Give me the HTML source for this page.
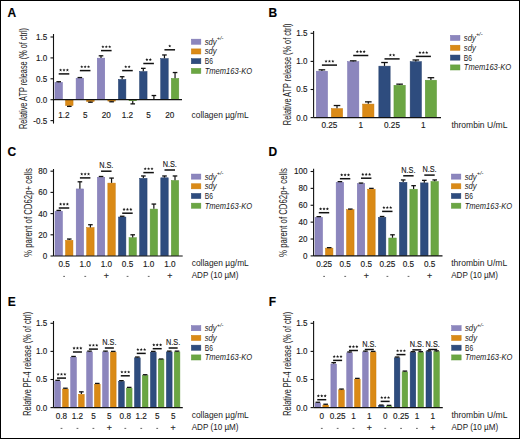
<!DOCTYPE html>
<html><head><meta charset="utf-8"><style>
html,body{margin:0;padding:0;background:#fff;}
svg{display:block;font-family:"Liberation Sans", sans-serif;}
text{stroke:#1a1a1a;stroke-width:0.15px;}
</style></head><body>
<svg width="520" height="439" viewBox="0 0 520 439">
<rect x="0" y="0" width="520" height="439" fill="#fff"/>
<text x="7.40" y="17.40" font-size="12" text-anchor="start" fill="#000" font-weight="bold" >A</text>
<text x="0.00" y="0.00" font-size="10.0" text-anchor="middle" fill="#1a1a1a" textLength="101" lengthAdjust="spacingAndGlyphs" style="stroke:none" transform="translate(27.20,78.50) rotate(-90)">Relative ATP release (% of ctrl)</text>
<line x1="53.50" y1="34.00" x2="53.50" y2="123.60" stroke="#111" stroke-width="1.1"/>
<line x1="50.50" y1="37.00" x2="53.50" y2="37.00" stroke="#111" stroke-width="1.1"/>
<text x="47.30" y="39.90" font-size="9.4" text-anchor="end" fill="#1a1a1a" textLength="11.24" lengthAdjust="spacingAndGlyphs" >1.5</text>
<line x1="50.50" y1="57.90" x2="53.50" y2="57.90" stroke="#111" stroke-width="1.1"/>
<text x="47.30" y="60.80" font-size="9.4" text-anchor="end" fill="#1a1a1a" textLength="11.24" lengthAdjust="spacingAndGlyphs" >1.0</text>
<line x1="50.50" y1="78.80" x2="53.50" y2="78.80" stroke="#111" stroke-width="1.1"/>
<text x="47.30" y="81.70" font-size="9.4" text-anchor="end" fill="#1a1a1a" textLength="11.24" lengthAdjust="spacingAndGlyphs" >0.5</text>
<line x1="50.50" y1="99.70" x2="53.50" y2="99.70" stroke="#111" stroke-width="1.1"/>
<text x="47.30" y="102.60" font-size="9.4" text-anchor="end" fill="#1a1a1a" textLength="11.24" lengthAdjust="spacingAndGlyphs" >0.0</text>
<line x1="50.50" y1="120.60" x2="53.50" y2="120.60" stroke="#111" stroke-width="1.1"/>
<text x="47.30" y="123.50" font-size="9.4" text-anchor="end" fill="#1a1a1a" textLength="13.93" lengthAdjust="spacingAndGlyphs" >-0.5</text>
<rect x="54.95" y="82.39" width="7.50" height="17.06" fill="#8C86BD" stroke="#7B73B2" stroke-width="0.5"/>
<line x1="58.70" y1="82.14" x2="58.70" y2="81.73" stroke="#111" stroke-width="1.2"/>
<line x1="56.40" y1="81.73" x2="61.00" y2="81.73" stroke="#111" stroke-width="1.3"/>
<rect x="65.55" y="99.95" width="7.50" height="5.56" fill="#DA8A16" stroke="#C97A0A" stroke-width="0.5"/>
<line x1="69.30" y1="105.76" x2="69.30" y2="106.39" stroke="#111" stroke-width="1.2"/>
<line x1="67.00" y1="106.39" x2="71.60" y2="106.39" stroke="#111" stroke-width="1.3"/>
<rect x="76.10" y="78.21" width="7.50" height="21.24" fill="#8C86BD" stroke="#7B73B2" stroke-width="0.5"/>
<line x1="79.85" y1="77.96" x2="79.85" y2="77.55" stroke="#111" stroke-width="1.2"/>
<line x1="77.55" y1="77.55" x2="82.15" y2="77.55" stroke="#111" stroke-width="1.3"/>
<rect x="86.70" y="99.95" width="7.50" height="1.59" fill="#DA8A16" stroke="#C97A0A" stroke-width="0.5"/>
<line x1="90.45" y1="101.79" x2="90.45" y2="102.21" stroke="#111" stroke-width="1.2"/>
<line x1="88.15" y1="102.21" x2="92.75" y2="102.21" stroke="#111" stroke-width="1.3"/>
<rect x="97.25" y="58.15" width="7.50" height="41.30" fill="#8C86BD" stroke="#7B73B2" stroke-width="0.5"/>
<line x1="101.00" y1="57.90" x2="101.00" y2="55.81" stroke="#111" stroke-width="1.2"/>
<line x1="98.70" y1="55.81" x2="103.30" y2="55.81" stroke="#111" stroke-width="1.3"/>
<rect x="107.85" y="99.95" width="7.50" height="1.17" fill="#DA8A16" stroke="#C97A0A" stroke-width="0.5"/>
<line x1="111.60" y1="101.37" x2="111.60" y2="101.79" stroke="#111" stroke-width="1.2"/>
<line x1="109.30" y1="101.79" x2="113.90" y2="101.79" stroke="#111" stroke-width="1.3"/>
<rect x="118.40" y="79.47" width="7.50" height="19.98" fill="#2E4C7E" stroke="#233E6C" stroke-width="0.5"/>
<line x1="122.15" y1="79.22" x2="122.15" y2="76.71" stroke="#111" stroke-width="1.2"/>
<line x1="119.85" y1="76.71" x2="124.45" y2="76.71" stroke="#111" stroke-width="1.3"/>
<rect x="128.75" y="99.70" width="8.00" height="1.25" fill="#6BA643"/>
<line x1="132.75" y1="100.95" x2="132.75" y2="103.88" stroke="#111" stroke-width="1.2"/>
<line x1="130.45" y1="103.88" x2="135.05" y2="103.88" stroke="#111" stroke-width="1.3"/>
<rect x="139.55" y="71.53" width="7.50" height="27.92" fill="#2E4C7E" stroke="#233E6C" stroke-width="0.5"/>
<line x1="143.30" y1="71.28" x2="143.30" y2="68.35" stroke="#111" stroke-width="1.2"/>
<line x1="141.00" y1="68.35" x2="145.60" y2="68.35" stroke="#111" stroke-width="1.3"/>
<rect x="149.90" y="99.70" width="8.00" height="0.00" fill="#6BA643"/>
<line x1="153.90" y1="99.70" x2="153.90" y2="95.52" stroke="#111" stroke-width="1.2"/>
<line x1="151.60" y1="95.52" x2="156.20" y2="95.52" stroke="#111" stroke-width="1.3"/>
<rect x="160.70" y="58.57" width="7.50" height="40.88" fill="#2E4C7E" stroke="#233E6C" stroke-width="0.5"/>
<line x1="164.45" y1="58.32" x2="164.45" y2="54.97" stroke="#111" stroke-width="1.2"/>
<line x1="162.15" y1="54.97" x2="166.75" y2="54.97" stroke="#111" stroke-width="1.3"/>
<rect x="171.30" y="78.42" width="7.50" height="21.03" fill="#6BA643" stroke="#5E9838" stroke-width="0.5"/>
<line x1="175.05" y1="78.17" x2="175.05" y2="72.53" stroke="#111" stroke-width="1.2"/>
<line x1="172.75" y1="72.53" x2="177.35" y2="72.53" stroke="#111" stroke-width="1.3"/>
<line x1="53.50" y1="99.70" x2="182.00" y2="99.70" stroke="#111" stroke-width="1.2"/>
<line x1="58.70" y1="73.90" x2="69.30" y2="73.90" stroke="#111" stroke-width="1.5"/>
<polygon points="60.60,68.50 61.04,69.49 62.12,69.61 61.31,70.33 61.54,71.39 60.60,70.85 59.66,71.39 59.89,70.33 59.08,69.61 60.16,69.49" fill="#1a1a1a"/>
<polygon points="64.00,68.50 64.44,69.49 65.52,69.61 64.71,70.33 64.94,71.39 64.00,70.85 63.06,71.39 63.29,70.33 62.48,69.61 63.56,69.49" fill="#1a1a1a"/>
<polygon points="67.40,68.50 67.84,69.49 68.92,69.61 68.11,70.33 68.34,71.39 67.40,70.85 66.46,71.39 66.69,70.33 65.88,69.61 66.96,69.49" fill="#1a1a1a"/>
<line x1="79.85" y1="70.60" x2="90.45" y2="70.60" stroke="#111" stroke-width="1.5"/>
<polygon points="81.75,65.20 82.19,66.19 83.27,66.31 82.46,67.03 82.69,68.09 81.75,67.55 80.81,68.09 81.04,67.03 80.23,66.31 81.31,66.19" fill="#1a1a1a"/>
<polygon points="85.15,65.20 85.59,66.19 86.67,66.31 85.86,67.03 86.09,68.09 85.15,67.55 84.21,68.09 84.44,67.03 83.63,66.31 84.71,66.19" fill="#1a1a1a"/>
<polygon points="88.55,65.20 88.99,66.19 90.07,66.31 89.26,67.03 89.49,68.09 88.55,67.55 87.61,68.09 87.84,67.03 87.03,66.31 88.11,66.19" fill="#1a1a1a"/>
<line x1="101.00" y1="50.60" x2="111.60" y2="50.60" stroke="#111" stroke-width="1.5"/>
<polygon points="102.90,45.20 103.34,46.19 104.42,46.31 103.61,47.03 103.84,48.09 102.90,47.55 101.96,48.09 102.19,47.03 101.38,46.31 102.46,46.19" fill="#1a1a1a"/>
<polygon points="106.30,45.20 106.74,46.19 107.82,46.31 107.01,47.03 107.24,48.09 106.30,47.55 105.36,48.09 105.59,47.03 104.78,46.31 105.86,46.19" fill="#1a1a1a"/>
<polygon points="109.70,45.20 110.14,46.19 111.22,46.31 110.41,47.03 110.64,48.09 109.70,47.55 108.76,48.09 108.99,47.03 108.18,46.31 109.26,46.19" fill="#1a1a1a"/>
<line x1="122.15" y1="70.60" x2="132.75" y2="70.60" stroke="#111" stroke-width="1.5"/>
<polygon points="125.75,65.20 126.19,66.19 127.27,66.31 126.46,67.03 126.69,68.09 125.75,67.55 124.81,68.09 125.04,67.03 124.23,66.31 125.31,66.19" fill="#1a1a1a"/>
<polygon points="129.15,65.20 129.59,66.19 130.67,66.31 129.86,67.03 130.09,68.09 129.15,67.55 128.21,68.09 128.44,67.03 127.63,66.31 128.71,66.19" fill="#1a1a1a"/>
<line x1="143.30" y1="63.50" x2="153.90" y2="63.50" stroke="#111" stroke-width="1.5"/>
<polygon points="146.90,58.10 147.34,59.09 148.42,59.21 147.61,59.93 147.84,60.99 146.90,60.45 145.96,60.99 146.19,59.93 145.38,59.21 146.46,59.09" fill="#1a1a1a"/>
<polygon points="150.30,58.10 150.74,59.09 151.82,59.21 151.01,59.93 151.24,60.99 150.30,60.45 149.36,60.99 149.59,59.93 148.78,59.21 149.86,59.09" fill="#1a1a1a"/>
<line x1="164.45" y1="49.80" x2="175.05" y2="49.80" stroke="#111" stroke-width="1.5"/>
<polygon points="169.75,44.40 170.19,45.39 171.27,45.51 170.46,46.23 170.69,47.29 169.75,46.75 168.81,47.29 169.04,46.23 168.23,45.51 169.31,45.39" fill="#1a1a1a"/>
<text x="64.00" y="118.00" font-size="8.8" text-anchor="middle" fill="#1a1a1a" textLength="11.38" lengthAdjust="spacingAndGlyphs" >1.2</text>
<text x="85.15" y="118.00" font-size="8.8" text-anchor="middle" fill="#1a1a1a" textLength="4.55" lengthAdjust="spacingAndGlyphs" >5</text>
<text x="106.30" y="118.00" font-size="8.8" text-anchor="middle" fill="#1a1a1a" textLength="9.1" lengthAdjust="spacingAndGlyphs" >20</text>
<text x="127.45" y="118.00" font-size="8.8" text-anchor="middle" fill="#1a1a1a" textLength="11.38" lengthAdjust="spacingAndGlyphs" >1.2</text>
<text x="148.60" y="118.00" font-size="8.8" text-anchor="middle" fill="#1a1a1a" textLength="4.55" lengthAdjust="spacingAndGlyphs" >5</text>
<text x="169.75" y="118.00" font-size="8.8" text-anchor="middle" fill="#1a1a1a" textLength="9.1" lengthAdjust="spacingAndGlyphs" >20</text>
<text x="191.60" y="118.00" font-size="9.1" text-anchor="start" fill="#1a1a1a" textLength="57" lengthAdjust="spacingAndGlyphs" style="stroke:none">collagen µg/mL</text>
<rect x="191.35" y="39.15" width="9.50" height="5.10" fill="#8C86BD" stroke="#7B73B2" stroke-width="0.5"/>
<text x="204.70" y="44.60" font-size="8.9" text-anchor="start" fill="#1a1a1a" font-style="italic" textLength="12" lengthAdjust="spacingAndGlyphs" style="stroke:none">sdy</text>
<text x="216.80" y="40.20" font-size="5.8" text-anchor="start" fill="#1a1a1a" font-style="italic" textLength="6.6" lengthAdjust="spacingAndGlyphs" style="stroke:none">+/-</text>
<rect x="191.35" y="48.90" width="9.50" height="5.10" fill="#DA8A16" stroke="#C97A0A" stroke-width="0.5"/>
<text x="204.70" y="54.35" font-size="8.9" text-anchor="start" fill="#1a1a1a" font-style="italic" textLength="12" lengthAdjust="spacingAndGlyphs" style="stroke:none">sdy</text>
<rect x="191.35" y="58.65" width="9.50" height="5.10" fill="#2E4C7E" stroke="#233E6C" stroke-width="0.5"/>
<text x="204.70" y="64.10" font-size="8.9" text-anchor="start" fill="#1a1a1a" textLength="8.2" lengthAdjust="spacingAndGlyphs" style="stroke:none">B6</text>
<rect x="191.35" y="68.40" width="9.50" height="5.10" fill="#6BA643" stroke="#5E9838" stroke-width="0.5"/>
<text x="204.70" y="73.85" font-size="8.9" text-anchor="start" fill="#1a1a1a" font-style="italic" textLength="47.4" lengthAdjust="spacingAndGlyphs" style="stroke:none">Tmem163-KO</text>
<text x="268.60" y="17.40" font-size="12" text-anchor="start" fill="#000" font-weight="bold" >B</text>
<text x="0.00" y="0.00" font-size="10.0" text-anchor="middle" fill="#1a1a1a" textLength="101.7" lengthAdjust="spacingAndGlyphs" style="stroke:none" transform="translate(290.50,74.30) rotate(-90)">Relative ATP release (% of ctrl)</text>
<line x1="313.60" y1="31.00" x2="313.60" y2="117.60" stroke="#111" stroke-width="1.1"/>
<line x1="310.60" y1="33.30" x2="313.60" y2="33.30" stroke="#111" stroke-width="1.1"/>
<text x="307.40" y="36.20" font-size="9.4" text-anchor="end" fill="#1a1a1a" textLength="11.24" lengthAdjust="spacingAndGlyphs" >1.5</text>
<line x1="310.60" y1="61.40" x2="313.60" y2="61.40" stroke="#111" stroke-width="1.1"/>
<text x="307.40" y="64.30" font-size="9.4" text-anchor="end" fill="#1a1a1a" textLength="11.24" lengthAdjust="spacingAndGlyphs" >1.0</text>
<line x1="310.60" y1="89.50" x2="313.60" y2="89.50" stroke="#111" stroke-width="1.1"/>
<text x="307.40" y="92.40" font-size="9.4" text-anchor="end" fill="#1a1a1a" textLength="11.24" lengthAdjust="spacingAndGlyphs" >0.5</text>
<line x1="310.60" y1="117.60" x2="313.60" y2="117.60" stroke="#111" stroke-width="1.1"/>
<text x="307.40" y="120.50" font-size="9.4" text-anchor="end" fill="#1a1a1a" textLength="11.24" lengthAdjust="spacingAndGlyphs" >0.0</text>
<rect x="316.25" y="71.20" width="11.30" height="46.15" fill="#8C86BD" stroke="#7B73B2" stroke-width="0.5"/>
<line x1="321.90" y1="70.95" x2="321.90" y2="69.83" stroke="#111" stroke-width="1.2"/>
<line x1="318.60" y1="69.83" x2="325.20" y2="69.83" stroke="#111" stroke-width="1.3"/>
<rect x="331.35" y="108.58" width="11.30" height="8.77" fill="#DA8A16" stroke="#C97A0A" stroke-width="0.5"/>
<line x1="337.00" y1="108.33" x2="337.00" y2="105.52" stroke="#111" stroke-width="1.2"/>
<line x1="333.70" y1="105.52" x2="340.30" y2="105.52" stroke="#111" stroke-width="1.3"/>
<rect x="347.55" y="61.65" width="11.30" height="55.70" fill="#8C86BD" stroke="#7B73B2" stroke-width="0.5"/>
<line x1="353.20" y1="61.40" x2="353.20" y2="60.84" stroke="#111" stroke-width="1.2"/>
<line x1="349.90" y1="60.84" x2="356.50" y2="60.84" stroke="#111" stroke-width="1.3"/>
<rect x="362.65" y="104.08" width="11.30" height="13.27" fill="#DA8A16" stroke="#C97A0A" stroke-width="0.5"/>
<line x1="368.30" y1="103.83" x2="368.30" y2="101.86" stroke="#111" stroke-width="1.2"/>
<line x1="365.00" y1="101.86" x2="371.60" y2="101.86" stroke="#111" stroke-width="1.3"/>
<rect x="378.85" y="66.15" width="11.30" height="51.20" fill="#2E4C7E" stroke="#233E6C" stroke-width="0.5"/>
<line x1="384.50" y1="65.90" x2="384.50" y2="62.52" stroke="#111" stroke-width="1.2"/>
<line x1="381.20" y1="62.52" x2="387.80" y2="62.52" stroke="#111" stroke-width="1.3"/>
<rect x="393.95" y="85.25" width="11.30" height="32.10" fill="#6BA643" stroke="#5E9838" stroke-width="0.5"/>
<line x1="399.60" y1="85.00" x2="399.60" y2="84.16" stroke="#111" stroke-width="1.2"/>
<line x1="396.30" y1="84.16" x2="402.90" y2="84.16" stroke="#111" stroke-width="1.3"/>
<rect x="410.15" y="61.65" width="11.30" height="55.70" fill="#2E4C7E" stroke="#233E6C" stroke-width="0.5"/>
<line x1="415.80" y1="61.40" x2="415.80" y2="59.99" stroke="#111" stroke-width="1.2"/>
<line x1="412.50" y1="59.99" x2="419.10" y2="59.99" stroke="#111" stroke-width="1.3"/>
<rect x="425.25" y="80.20" width="11.30" height="37.15" fill="#6BA643" stroke="#5E9838" stroke-width="0.5"/>
<line x1="430.90" y1="79.95" x2="430.90" y2="77.70" stroke="#111" stroke-width="1.2"/>
<line x1="427.60" y1="77.70" x2="434.20" y2="77.70" stroke="#111" stroke-width="1.3"/>
<line x1="313.60" y1="117.60" x2="441.00" y2="117.60" stroke="#111" stroke-width="1.2"/>
<line x1="321.90" y1="65.10" x2="337.00" y2="65.10" stroke="#111" stroke-width="1.5"/>
<polygon points="326.05,59.70 326.49,60.69 327.57,60.81 326.76,61.53 326.99,62.59 326.05,62.05 325.11,62.59 325.34,61.53 324.53,60.81 325.61,60.69" fill="#1a1a1a"/>
<polygon points="329.45,59.70 329.89,60.69 330.97,60.81 330.16,61.53 330.39,62.59 329.45,62.05 328.51,62.59 328.74,61.53 327.93,60.81 329.01,60.69" fill="#1a1a1a"/>
<polygon points="332.85,59.70 333.29,60.69 334.37,60.81 333.56,61.53 333.79,62.59 332.85,62.05 331.91,62.59 332.14,61.53 331.33,60.81 332.41,60.69" fill="#1a1a1a"/>
<line x1="353.20" y1="55.50" x2="368.30" y2="55.50" stroke="#111" stroke-width="1.5"/>
<polygon points="357.35,50.10 357.79,51.09 358.87,51.21 358.06,51.93 358.29,52.99 357.35,52.45 356.41,52.99 356.64,51.93 355.83,51.21 356.91,51.09" fill="#1a1a1a"/>
<polygon points="360.75,50.10 361.19,51.09 362.27,51.21 361.46,51.93 361.69,52.99 360.75,52.45 359.81,52.99 360.04,51.93 359.23,51.21 360.31,51.09" fill="#1a1a1a"/>
<polygon points="364.15,50.10 364.59,51.09 365.67,51.21 364.86,51.93 365.09,52.99 364.15,52.45 363.21,52.99 363.44,51.93 362.63,51.21 363.71,51.09" fill="#1a1a1a"/>
<line x1="384.50" y1="58.90" x2="399.60" y2="58.90" stroke="#111" stroke-width="1.5"/>
<polygon points="390.35,53.50 390.79,54.49 391.87,54.61 391.06,55.33 391.29,56.39 390.35,55.85 389.41,56.39 389.64,55.33 388.83,54.61 389.91,54.49" fill="#1a1a1a"/>
<polygon points="393.75,53.50 394.19,54.49 395.27,54.61 394.46,55.33 394.69,56.39 393.75,55.85 392.81,56.39 393.04,55.33 392.23,54.61 393.31,54.49" fill="#1a1a1a"/>
<line x1="415.80" y1="56.40" x2="430.90" y2="56.40" stroke="#111" stroke-width="1.5"/>
<polygon points="419.95,51.00 420.39,51.99 421.47,52.11 420.66,52.83 420.89,53.89 419.95,53.35 419.01,53.89 419.24,52.83 418.43,52.11 419.51,51.99" fill="#1a1a1a"/>
<polygon points="423.35,51.00 423.79,51.99 424.87,52.11 424.06,52.83 424.29,53.89 423.35,53.35 422.41,53.89 422.64,52.83 421.83,52.11 422.91,51.99" fill="#1a1a1a"/>
<polygon points="426.75,51.00 427.19,51.99 428.27,52.11 427.46,52.83 427.69,53.89 426.75,53.35 425.81,53.89 426.04,52.83 425.23,52.11 426.31,51.99" fill="#1a1a1a"/>
<text x="329.40" y="127.60" font-size="8.8" text-anchor="middle" fill="#1a1a1a" textLength="15.93" lengthAdjust="spacingAndGlyphs" >0.25</text>
<text x="360.70" y="127.60" font-size="8.8" text-anchor="middle" fill="#1a1a1a" textLength="4.55" lengthAdjust="spacingAndGlyphs" >1</text>
<text x="392.00" y="127.60" font-size="8.8" text-anchor="middle" fill="#1a1a1a" textLength="15.93" lengthAdjust="spacingAndGlyphs" >0.25</text>
<text x="423.30" y="127.60" font-size="8.8" text-anchor="middle" fill="#1a1a1a" textLength="4.55" lengthAdjust="spacingAndGlyphs" >1</text>
<text x="451.40" y="127.60" font-size="9.1" text-anchor="start" fill="#1a1a1a" textLength="56" lengthAdjust="spacingAndGlyphs" style="stroke:none">thrombin U/mL</text>
<rect x="450.45" y="35.35" width="9.50" height="5.10" fill="#8C86BD" stroke="#7B73B2" stroke-width="0.5"/>
<text x="463.80" y="40.80" font-size="8.9" text-anchor="start" fill="#1a1a1a" font-style="italic" textLength="12" lengthAdjust="spacingAndGlyphs" style="stroke:none">sdy</text>
<text x="475.90" y="36.40" font-size="5.8" text-anchor="start" fill="#1a1a1a" font-style="italic" textLength="6.6" lengthAdjust="spacingAndGlyphs" style="stroke:none">+/-</text>
<rect x="450.45" y="45.20" width="9.50" height="5.10" fill="#DA8A16" stroke="#C97A0A" stroke-width="0.5"/>
<text x="463.80" y="50.65" font-size="8.9" text-anchor="start" fill="#1a1a1a" font-style="italic" textLength="12" lengthAdjust="spacingAndGlyphs" style="stroke:none">sdy</text>
<rect x="450.45" y="55.05" width="9.50" height="5.10" fill="#2E4C7E" stroke="#233E6C" stroke-width="0.5"/>
<text x="463.80" y="60.50" font-size="8.9" text-anchor="start" fill="#1a1a1a" textLength="8.2" lengthAdjust="spacingAndGlyphs" style="stroke:none">B6</text>
<rect x="450.45" y="64.90" width="9.50" height="5.10" fill="#6BA643" stroke="#5E9838" stroke-width="0.5"/>
<text x="463.80" y="70.35" font-size="8.9" text-anchor="start" fill="#1a1a1a" font-style="italic" textLength="47.4" lengthAdjust="spacingAndGlyphs" style="stroke:none">Tmem163-KO</text>
<text x="7.60" y="156.00" font-size="12" text-anchor="start" fill="#000" font-weight="bold" >C</text>
<text x="0.00" y="0.00" font-size="10.0" text-anchor="middle" fill="#1a1a1a" textLength="88.8" lengthAdjust="spacingAndGlyphs" style="stroke:none" transform="translate(32.40,212.50) rotate(-90)">% parent of CD62p+ cells</text>
<line x1="53.50" y1="169.00" x2="53.50" y2="256.00" stroke="#111" stroke-width="1.1"/>
<line x1="50.50" y1="171.20" x2="53.50" y2="171.20" stroke="#111" stroke-width="1.1"/>
<text x="47.30" y="174.10" font-size="9.4" text-anchor="end" fill="#1a1a1a" textLength="8.99" lengthAdjust="spacingAndGlyphs" >80</text>
<line x1="50.50" y1="192.40" x2="53.50" y2="192.40" stroke="#111" stroke-width="1.1"/>
<text x="47.30" y="195.30" font-size="9.4" text-anchor="end" fill="#1a1a1a" textLength="8.99" lengthAdjust="spacingAndGlyphs" >60</text>
<line x1="50.50" y1="213.60" x2="53.50" y2="213.60" stroke="#111" stroke-width="1.1"/>
<text x="47.30" y="216.50" font-size="9.4" text-anchor="end" fill="#1a1a1a" textLength="8.99" lengthAdjust="spacingAndGlyphs" >40</text>
<line x1="50.50" y1="234.80" x2="53.50" y2="234.80" stroke="#111" stroke-width="1.1"/>
<text x="47.30" y="237.70" font-size="9.4" text-anchor="end" fill="#1a1a1a" textLength="8.99" lengthAdjust="spacingAndGlyphs" >20</text>
<line x1="50.50" y1="256.00" x2="53.50" y2="256.00" stroke="#111" stroke-width="1.1"/>
<text x="47.30" y="258.90" font-size="9.4" text-anchor="end" fill="#1a1a1a" textLength="4.5" lengthAdjust="spacingAndGlyphs" >0</text>
<rect x="55.05" y="211.20" width="7.40" height="44.55" fill="#8C86BD" stroke="#7B73B2" stroke-width="0.5"/>
<line x1="58.75" y1="210.95" x2="58.75" y2="210.42" stroke="#111" stroke-width="1.2"/>
<line x1="56.45" y1="210.42" x2="61.05" y2="210.42" stroke="#111" stroke-width="1.3"/>
<rect x="65.55" y="240.35" width="7.40" height="15.40" fill="#DA8A16" stroke="#C97A0A" stroke-width="0.5"/>
<line x1="69.25" y1="240.10" x2="69.25" y2="239.04" stroke="#111" stroke-width="1.2"/>
<line x1="66.95" y1="239.04" x2="71.55" y2="239.04" stroke="#111" stroke-width="1.3"/>
<rect x="76.20" y="188.94" width="7.40" height="66.81" fill="#8C86BD" stroke="#7B73B2" stroke-width="0.5"/>
<line x1="79.90" y1="188.69" x2="79.90" y2="181.80" stroke="#111" stroke-width="1.2"/>
<line x1="77.60" y1="181.80" x2="82.20" y2="181.80" stroke="#111" stroke-width="1.3"/>
<rect x="86.70" y="227.63" width="7.40" height="28.12" fill="#DA8A16" stroke="#C97A0A" stroke-width="0.5"/>
<line x1="90.40" y1="227.38" x2="90.40" y2="224.73" stroke="#111" stroke-width="1.2"/>
<line x1="88.10" y1="224.73" x2="92.70" y2="224.73" stroke="#111" stroke-width="1.3"/>
<rect x="97.35" y="177.28" width="7.40" height="78.47" fill="#8C86BD" stroke="#7B73B2" stroke-width="0.5"/>
<line x1="101.05" y1="177.03" x2="101.05" y2="176.50" stroke="#111" stroke-width="1.2"/>
<line x1="98.75" y1="176.50" x2="103.35" y2="176.50" stroke="#111" stroke-width="1.3"/>
<rect x="107.85" y="183.11" width="7.40" height="72.64" fill="#DA8A16" stroke="#C97A0A" stroke-width="0.5"/>
<line x1="111.55" y1="182.86" x2="111.55" y2="178.09" stroke="#111" stroke-width="1.2"/>
<line x1="109.25" y1="178.09" x2="113.85" y2="178.09" stroke="#111" stroke-width="1.3"/>
<rect x="118.50" y="217.03" width="7.40" height="38.72" fill="#2E4C7E" stroke="#233E6C" stroke-width="0.5"/>
<line x1="122.20" y1="216.78" x2="122.20" y2="216.25" stroke="#111" stroke-width="1.2"/>
<line x1="119.90" y1="216.25" x2="124.50" y2="216.25" stroke="#111" stroke-width="1.3"/>
<rect x="129.00" y="237.70" width="7.40" height="18.05" fill="#6BA643" stroke="#5E9838" stroke-width="0.5"/>
<line x1="132.70" y1="237.45" x2="132.70" y2="234.80" stroke="#111" stroke-width="1.2"/>
<line x1="130.40" y1="234.80" x2="135.00" y2="234.80" stroke="#111" stroke-width="1.3"/>
<rect x="139.65" y="178.34" width="7.40" height="77.41" fill="#2E4C7E" stroke="#233E6C" stroke-width="0.5"/>
<line x1="143.35" y1="178.09" x2="143.35" y2="175.97" stroke="#111" stroke-width="1.2"/>
<line x1="141.05" y1="175.97" x2="145.65" y2="175.97" stroke="#111" stroke-width="1.3"/>
<rect x="150.15" y="209.08" width="7.40" height="46.67" fill="#6BA643" stroke="#5E9838" stroke-width="0.5"/>
<line x1="153.85" y1="208.83" x2="153.85" y2="204.06" stroke="#111" stroke-width="1.2"/>
<line x1="151.55" y1="204.06" x2="156.15" y2="204.06" stroke="#111" stroke-width="1.3"/>
<rect x="160.80" y="177.81" width="7.40" height="77.94" fill="#2E4C7E" stroke="#233E6C" stroke-width="0.5"/>
<line x1="164.50" y1="177.56" x2="164.50" y2="175.97" stroke="#111" stroke-width="1.2"/>
<line x1="162.20" y1="175.97" x2="166.80" y2="175.97" stroke="#111" stroke-width="1.3"/>
<rect x="171.30" y="180.46" width="7.40" height="75.29" fill="#6BA643" stroke="#5E9838" stroke-width="0.5"/>
<line x1="175.00" y1="180.21" x2="175.00" y2="175.97" stroke="#111" stroke-width="1.2"/>
<line x1="172.70" y1="175.97" x2="177.30" y2="175.97" stroke="#111" stroke-width="1.3"/>
<line x1="53.50" y1="256.00" x2="182.70" y2="256.00" stroke="#111" stroke-width="1.2"/>
<line x1="58.75" y1="208.00" x2="69.25" y2="208.00" stroke="#111" stroke-width="1.5"/>
<polygon points="60.60,202.60 61.04,203.59 62.12,203.71 61.31,204.43 61.54,205.49 60.60,204.95 59.66,205.49 59.89,204.43 59.08,203.71 60.16,203.59" fill="#1a1a1a"/>
<polygon points="64.00,202.60 64.44,203.59 65.52,203.71 64.71,204.43 64.94,205.49 64.00,204.95 63.06,205.49 63.29,204.43 62.48,203.71 63.56,203.59" fill="#1a1a1a"/>
<polygon points="67.40,202.60 67.84,203.59 68.92,203.71 68.11,204.43 68.34,205.49 67.40,204.95 66.46,205.49 66.69,204.43 65.88,203.71 66.96,203.59" fill="#1a1a1a"/>
<line x1="79.90" y1="177.90" x2="90.40" y2="177.90" stroke="#111" stroke-width="1.5"/>
<polygon points="81.75,172.50 82.19,173.49 83.27,173.61 82.46,174.33 82.69,175.39 81.75,174.85 80.81,175.39 81.04,174.33 80.23,173.61 81.31,173.49" fill="#1a1a1a"/>
<polygon points="85.15,172.50 85.59,173.49 86.67,173.61 85.86,174.33 86.09,175.39 85.15,174.85 84.21,175.39 84.44,174.33 83.63,173.61 84.71,173.49" fill="#1a1a1a"/>
<polygon points="88.55,172.50 88.99,173.49 90.07,173.61 89.26,174.33 89.49,175.39 88.55,174.85 87.61,175.39 87.84,174.33 87.03,173.61 88.11,173.49" fill="#1a1a1a"/>
<line x1="101.05" y1="171.20" x2="111.55" y2="171.20" stroke="#111" stroke-width="1.5"/>
<text x="106.30" y="168.40" font-size="9.2" text-anchor="middle" fill="#1a1a1a" textLength="14.2" lengthAdjust="spacingAndGlyphs" >N.S.</text>
<line x1="122.20" y1="213.20" x2="132.70" y2="213.20" stroke="#111" stroke-width="1.5"/>
<polygon points="124.05,207.80 124.49,208.79 125.57,208.91 124.76,209.63 124.99,210.69 124.05,210.15 123.11,210.69 123.34,209.63 122.53,208.91 123.61,208.79" fill="#1a1a1a"/>
<polygon points="127.45,207.80 127.89,208.79 128.97,208.91 128.16,209.63 128.39,210.69 127.45,210.15 126.51,210.69 126.74,209.63 125.93,208.91 127.01,208.79" fill="#1a1a1a"/>
<polygon points="130.85,207.80 131.29,208.79 132.37,208.91 131.56,209.63 131.79,210.69 130.85,210.15 129.91,210.69 130.14,209.63 129.33,208.91 130.41,208.79" fill="#1a1a1a"/>
<line x1="143.35" y1="172.60" x2="153.85" y2="172.60" stroke="#111" stroke-width="1.5"/>
<polygon points="145.20,167.20 145.64,168.19 146.72,168.31 145.91,169.03 146.14,170.09 145.20,169.55 144.26,170.09 144.49,169.03 143.68,168.31 144.76,168.19" fill="#1a1a1a"/>
<polygon points="148.60,167.20 149.04,168.19 150.12,168.31 149.31,169.03 149.54,170.09 148.60,169.55 147.66,170.09 147.89,169.03 147.08,168.31 148.16,168.19" fill="#1a1a1a"/>
<polygon points="152.00,167.20 152.44,168.19 153.52,168.31 152.71,169.03 152.94,170.09 152.00,169.55 151.06,170.09 151.29,169.03 150.48,168.31 151.56,168.19" fill="#1a1a1a"/>
<line x1="164.50" y1="170.00" x2="175.00" y2="170.00" stroke="#111" stroke-width="1.5"/>
<text x="169.75" y="167.20" font-size="9.2" text-anchor="middle" fill="#1a1a1a" textLength="14.2" lengthAdjust="spacingAndGlyphs" >N.S.</text>
<text x="64.10" y="266.80" font-size="8.8" text-anchor="middle" fill="#1a1a1a" textLength="11.38" lengthAdjust="spacingAndGlyphs" >0.5</text>
<text x="85.25" y="266.80" font-size="8.8" text-anchor="middle" fill="#1a1a1a" textLength="11.38" lengthAdjust="spacingAndGlyphs" >1.0</text>
<text x="106.40" y="266.80" font-size="8.8" text-anchor="middle" fill="#1a1a1a" textLength="11.38" lengthAdjust="spacingAndGlyphs" >1.0</text>
<text x="127.55" y="266.80" font-size="8.8" text-anchor="middle" fill="#1a1a1a" textLength="11.38" lengthAdjust="spacingAndGlyphs" >0.5</text>
<text x="148.70" y="266.80" font-size="8.8" text-anchor="middle" fill="#1a1a1a" textLength="11.38" lengthAdjust="spacingAndGlyphs" >1.0</text>
<text x="169.85" y="266.80" font-size="8.8" text-anchor="middle" fill="#1a1a1a" textLength="11.38" lengthAdjust="spacingAndGlyphs" >1.0</text>
<rect x="63.20" y="275.90" width="1.80" height="0.90" fill="#555"/>
<rect x="84.35" y="275.90" width="1.80" height="0.90" fill="#555"/>
<text x="106.40" y="278.50" font-size="8.8" text-anchor="middle" fill="#1a1a1a" >+</text>
<rect x="126.65" y="275.90" width="1.80" height="0.90" fill="#555"/>
<rect x="147.80" y="275.90" width="1.80" height="0.90" fill="#555"/>
<text x="169.85" y="278.50" font-size="8.8" text-anchor="middle" fill="#1a1a1a" >+</text>
<text x="191.70" y="266.40" font-size="9.1" text-anchor="start" fill="#1a1a1a" textLength="57.1" lengthAdjust="spacingAndGlyphs" style="stroke:none">collagen µg/mL</text>
<text x="191.70" y="277.80" font-size="9.1" text-anchor="start" fill="#1a1a1a" textLength="46.8" lengthAdjust="spacingAndGlyphs" style="stroke:none">ADP (10 µM)</text>
<rect x="191.35" y="174.05" width="9.50" height="5.10" fill="#8C86BD" stroke="#7B73B2" stroke-width="0.5"/>
<text x="204.70" y="179.50" font-size="8.9" text-anchor="start" fill="#1a1a1a" font-style="italic" textLength="12" lengthAdjust="spacingAndGlyphs" style="stroke:none">sdy</text>
<text x="216.80" y="175.10" font-size="5.8" text-anchor="start" fill="#1a1a1a" font-style="italic" textLength="6.6" lengthAdjust="spacingAndGlyphs" style="stroke:none">+/-</text>
<rect x="191.35" y="183.75" width="9.50" height="5.10" fill="#DA8A16" stroke="#C97A0A" stroke-width="0.5"/>
<text x="204.70" y="189.20" font-size="8.9" text-anchor="start" fill="#1a1a1a" font-style="italic" textLength="12" lengthAdjust="spacingAndGlyphs" style="stroke:none">sdy</text>
<rect x="191.35" y="193.45" width="9.50" height="5.10" fill="#2E4C7E" stroke="#233E6C" stroke-width="0.5"/>
<text x="204.70" y="198.90" font-size="8.9" text-anchor="start" fill="#1a1a1a" textLength="8.2" lengthAdjust="spacingAndGlyphs" style="stroke:none">B6</text>
<rect x="191.35" y="203.15" width="9.50" height="5.10" fill="#6BA643" stroke="#5E9838" stroke-width="0.5"/>
<text x="204.70" y="208.60" font-size="8.9" text-anchor="start" fill="#1a1a1a" font-style="italic" textLength="47.4" lengthAdjust="spacingAndGlyphs" style="stroke:none">Tmem163-KO</text>
<text x="268.60" y="156.00" font-size="12" text-anchor="start" fill="#000" font-weight="bold" >D</text>
<text x="0.00" y="0.00" font-size="10.0" text-anchor="middle" fill="#1a1a1a" textLength="88.8" lengthAdjust="spacingAndGlyphs" style="stroke:none" transform="translate(287.40,212.50) rotate(-90)">% parent of CD62p+ cells</text>
<line x1="313.60" y1="168.70" x2="313.60" y2="255.90" stroke="#111" stroke-width="1.1"/>
<line x1="310.60" y1="171.50" x2="313.60" y2="171.50" stroke="#111" stroke-width="1.1"/>
<text x="307.40" y="174.40" font-size="9.4" text-anchor="end" fill="#1a1a1a" textLength="13.49" lengthAdjust="spacingAndGlyphs" >100</text>
<line x1="310.60" y1="188.38" x2="313.60" y2="188.38" stroke="#111" stroke-width="1.1"/>
<text x="307.40" y="191.28" font-size="9.4" text-anchor="end" fill="#1a1a1a" textLength="8.99" lengthAdjust="spacingAndGlyphs" >80</text>
<line x1="310.60" y1="205.26" x2="313.60" y2="205.26" stroke="#111" stroke-width="1.1"/>
<text x="307.40" y="208.16" font-size="9.4" text-anchor="end" fill="#1a1a1a" textLength="8.99" lengthAdjust="spacingAndGlyphs" >60</text>
<line x1="310.60" y1="222.14" x2="313.60" y2="222.14" stroke="#111" stroke-width="1.1"/>
<text x="307.40" y="225.04" font-size="9.4" text-anchor="end" fill="#1a1a1a" textLength="8.99" lengthAdjust="spacingAndGlyphs" >40</text>
<line x1="310.60" y1="239.02" x2="313.60" y2="239.02" stroke="#111" stroke-width="1.1"/>
<text x="307.40" y="241.92" font-size="9.4" text-anchor="end" fill="#1a1a1a" textLength="8.99" lengthAdjust="spacingAndGlyphs" >20</text>
<line x1="310.60" y1="255.90" x2="313.60" y2="255.90" stroke="#111" stroke-width="1.1"/>
<text x="307.40" y="258.80" font-size="9.4" text-anchor="end" fill="#1a1a1a" textLength="4.5" lengthAdjust="spacingAndGlyphs" >0</text>
<rect x="315.05" y="217.33" width="7.50" height="38.32" fill="#8C86BD" stroke="#7B73B2" stroke-width="0.5"/>
<line x1="318.80" y1="217.08" x2="318.80" y2="216.65" stroke="#111" stroke-width="1.2"/>
<line x1="316.50" y1="216.65" x2="321.10" y2="216.65" stroke="#111" stroke-width="1.3"/>
<rect x="325.45" y="248.13" width="7.50" height="7.52" fill="#DA8A16" stroke="#C97A0A" stroke-width="0.5"/>
<line x1="329.20" y1="247.88" x2="329.20" y2="247.63" stroke="#111" stroke-width="1.2"/>
<line x1="326.90" y1="247.63" x2="331.50" y2="247.63" stroke="#111" stroke-width="1.3"/>
<rect x="336.15" y="182.30" width="7.50" height="73.35" fill="#8C86BD" stroke="#7B73B2" stroke-width="0.5"/>
<line x1="339.90" y1="182.05" x2="339.90" y2="181.63" stroke="#111" stroke-width="1.2"/>
<line x1="337.60" y1="181.63" x2="342.20" y2="181.63" stroke="#111" stroke-width="1.3"/>
<rect x="346.55" y="209.73" width="7.50" height="45.92" fill="#DA8A16" stroke="#C97A0A" stroke-width="0.5"/>
<line x1="350.30" y1="209.48" x2="350.30" y2="209.06" stroke="#111" stroke-width="1.2"/>
<line x1="348.00" y1="209.06" x2="352.60" y2="209.06" stroke="#111" stroke-width="1.3"/>
<rect x="357.25" y="183.73" width="7.50" height="71.92" fill="#8C86BD" stroke="#7B73B2" stroke-width="0.5"/>
<line x1="361.00" y1="183.48" x2="361.00" y2="183.06" stroke="#111" stroke-width="1.2"/>
<line x1="358.70" y1="183.06" x2="363.30" y2="183.06" stroke="#111" stroke-width="1.3"/>
<rect x="367.65" y="189.22" width="7.50" height="66.43" fill="#DA8A16" stroke="#C97A0A" stroke-width="0.5"/>
<line x1="371.40" y1="188.97" x2="371.40" y2="188.38" stroke="#111" stroke-width="1.2"/>
<line x1="369.10" y1="188.38" x2="373.70" y2="188.38" stroke="#111" stroke-width="1.3"/>
<rect x="378.35" y="217.33" width="7.50" height="38.32" fill="#2E4C7E" stroke="#233E6C" stroke-width="0.5"/>
<line x1="382.10" y1="217.08" x2="382.10" y2="216.49" stroke="#111" stroke-width="1.2"/>
<line x1="379.80" y1="216.49" x2="384.40" y2="216.49" stroke="#111" stroke-width="1.3"/>
<rect x="388.75" y="238.00" width="7.50" height="17.65" fill="#6BA643" stroke="#5E9838" stroke-width="0.5"/>
<line x1="392.50" y1="237.75" x2="392.50" y2="234.80" stroke="#111" stroke-width="1.2"/>
<line x1="390.20" y1="234.80" x2="394.80" y2="234.80" stroke="#111" stroke-width="1.3"/>
<rect x="399.45" y="182.30" width="7.50" height="73.35" fill="#2E4C7E" stroke="#233E6C" stroke-width="0.5"/>
<line x1="403.20" y1="182.05" x2="403.20" y2="179.94" stroke="#111" stroke-width="1.2"/>
<line x1="400.90" y1="179.94" x2="405.50" y2="179.94" stroke="#111" stroke-width="1.3"/>
<rect x="409.85" y="189.22" width="7.50" height="66.43" fill="#6BA643" stroke="#5E9838" stroke-width="0.5"/>
<line x1="413.60" y1="188.97" x2="413.60" y2="185.68" stroke="#111" stroke-width="1.2"/>
<line x1="411.30" y1="185.68" x2="415.90" y2="185.68" stroke="#111" stroke-width="1.3"/>
<rect x="420.55" y="182.89" width="7.50" height="72.76" fill="#2E4C7E" stroke="#233E6C" stroke-width="0.5"/>
<line x1="424.30" y1="182.64" x2="424.30" y2="180.36" stroke="#111" stroke-width="1.2"/>
<line x1="422.00" y1="180.36" x2="426.60" y2="180.36" stroke="#111" stroke-width="1.3"/>
<rect x="430.95" y="181.46" width="7.50" height="74.19" fill="#6BA643" stroke="#5E9838" stroke-width="0.5"/>
<line x1="434.70" y1="181.21" x2="434.70" y2="179.94" stroke="#111" stroke-width="1.2"/>
<line x1="432.40" y1="179.94" x2="437.00" y2="179.94" stroke="#111" stroke-width="1.3"/>
<line x1="313.60" y1="255.90" x2="442.50" y2="255.90" stroke="#111" stroke-width="1.2"/>
<line x1="318.80" y1="212.70" x2="329.20" y2="212.70" stroke="#111" stroke-width="1.5"/>
<polygon points="320.60,207.30 321.04,208.29 322.12,208.41 321.31,209.13 321.54,210.19 320.60,209.65 319.66,210.19 319.89,209.13 319.08,208.41 320.16,208.29" fill="#1a1a1a"/>
<polygon points="324.00,207.30 324.44,208.29 325.52,208.41 324.71,209.13 324.94,210.19 324.00,209.65 323.06,210.19 323.29,209.13 322.48,208.41 323.56,208.29" fill="#1a1a1a"/>
<polygon points="327.40,207.30 327.84,208.29 328.92,208.41 328.11,209.13 328.34,210.19 327.40,209.65 326.46,210.19 326.69,209.13 325.88,208.41 326.96,208.29" fill="#1a1a1a"/>
<line x1="339.90" y1="178.70" x2="350.30" y2="178.70" stroke="#111" stroke-width="1.5"/>
<polygon points="341.70,173.30 342.14,174.29 343.22,174.41 342.41,175.13 342.64,176.19 341.70,175.65 340.76,176.19 340.99,175.13 340.18,174.41 341.26,174.29" fill="#1a1a1a"/>
<polygon points="345.10,173.30 345.54,174.29 346.62,174.41 345.81,175.13 346.04,176.19 345.10,175.65 344.16,176.19 344.39,175.13 343.58,174.41 344.66,174.29" fill="#1a1a1a"/>
<polygon points="348.50,173.30 348.94,174.29 350.02,174.41 349.21,175.13 349.44,176.19 348.50,175.65 347.56,176.19 347.79,175.13 346.98,174.41 348.06,174.29" fill="#1a1a1a"/>
<line x1="361.00" y1="178.20" x2="371.40" y2="178.20" stroke="#111" stroke-width="1.5"/>
<polygon points="362.80,172.80 363.24,173.79 364.32,173.91 363.51,174.63 363.74,175.69 362.80,175.15 361.86,175.69 362.09,174.63 361.28,173.91 362.36,173.79" fill="#1a1a1a"/>
<polygon points="366.20,172.80 366.64,173.79 367.72,173.91 366.91,174.63 367.14,175.69 366.20,175.15 365.26,175.69 365.49,174.63 364.68,173.91 365.76,173.79" fill="#1a1a1a"/>
<polygon points="369.60,172.80 370.04,173.79 371.12,173.91 370.31,174.63 370.54,175.69 369.60,175.15 368.66,175.69 368.89,174.63 368.08,173.91 369.16,173.79" fill="#1a1a1a"/>
<line x1="382.10" y1="211.40" x2="392.50" y2="211.40" stroke="#111" stroke-width="1.5"/>
<polygon points="383.90,206.00 384.34,206.99 385.42,207.11 384.61,207.83 384.84,208.89 383.90,208.35 382.96,208.89 383.19,207.83 382.38,207.11 383.46,206.99" fill="#1a1a1a"/>
<polygon points="387.30,206.00 387.74,206.99 388.82,207.11 388.01,207.83 388.24,208.89 387.30,208.35 386.36,208.89 386.59,207.83 385.78,207.11 386.86,206.99" fill="#1a1a1a"/>
<polygon points="390.70,206.00 391.14,206.99 392.22,207.11 391.41,207.83 391.64,208.89 390.70,208.35 389.76,208.89 389.99,207.83 389.18,207.11 390.26,206.99" fill="#1a1a1a"/>
<line x1="403.20" y1="175.80" x2="413.60" y2="175.80" stroke="#111" stroke-width="1.5"/>
<text x="408.40" y="173.00" font-size="9.2" text-anchor="middle" fill="#1a1a1a" textLength="14.2" lengthAdjust="spacingAndGlyphs" >N.S.</text>
<line x1="424.30" y1="175.10" x2="434.70" y2="175.10" stroke="#111" stroke-width="1.5"/>
<text x="429.50" y="172.30" font-size="9.2" text-anchor="middle" fill="#1a1a1a" textLength="14.2" lengthAdjust="spacingAndGlyphs" >N.S.</text>
<text x="324.10" y="266.80" font-size="8.8" text-anchor="middle" fill="#1a1a1a" textLength="15.93" lengthAdjust="spacingAndGlyphs" >0.25</text>
<text x="345.20" y="266.80" font-size="8.8" text-anchor="middle" fill="#1a1a1a" textLength="11.38" lengthAdjust="spacingAndGlyphs" >0.5</text>
<text x="366.30" y="266.80" font-size="8.8" text-anchor="middle" fill="#1a1a1a" textLength="11.38" lengthAdjust="spacingAndGlyphs" >0.5</text>
<text x="387.40" y="266.80" font-size="8.8" text-anchor="middle" fill="#1a1a1a" textLength="15.93" lengthAdjust="spacingAndGlyphs" >0.25</text>
<text x="408.50" y="266.80" font-size="8.8" text-anchor="middle" fill="#1a1a1a" textLength="11.38" lengthAdjust="spacingAndGlyphs" >0.5</text>
<text x="429.60" y="266.80" font-size="8.8" text-anchor="middle" fill="#1a1a1a" textLength="11.38" lengthAdjust="spacingAndGlyphs" >0.5</text>
<rect x="323.20" y="275.90" width="1.80" height="0.90" fill="#555"/>
<rect x="344.30" y="275.90" width="1.80" height="0.90" fill="#555"/>
<text x="366.30" y="278.50" font-size="8.8" text-anchor="middle" fill="#1a1a1a" >+</text>
<rect x="386.50" y="275.90" width="1.80" height="0.90" fill="#555"/>
<rect x="407.60" y="275.90" width="1.80" height="0.90" fill="#555"/>
<text x="429.60" y="278.50" font-size="8.8" text-anchor="middle" fill="#1a1a1a" >+</text>
<text x="451.20" y="266.40" font-size="9.1" text-anchor="start" fill="#1a1a1a" textLength="56" lengthAdjust="spacingAndGlyphs" style="stroke:none">thrombin U/mL</text>
<text x="451.20" y="277.80" font-size="9.1" text-anchor="start" fill="#1a1a1a" textLength="46.8" lengthAdjust="spacingAndGlyphs" style="stroke:none">ADP (10 µM)</text>
<rect x="451.35" y="174.05" width="9.50" height="5.10" fill="#8C86BD" stroke="#7B73B2" stroke-width="0.5"/>
<text x="464.70" y="179.50" font-size="8.9" text-anchor="start" fill="#1a1a1a" font-style="italic" textLength="12" lengthAdjust="spacingAndGlyphs" style="stroke:none">sdy</text>
<text x="476.80" y="175.10" font-size="5.8" text-anchor="start" fill="#1a1a1a" font-style="italic" textLength="6.6" lengthAdjust="spacingAndGlyphs" style="stroke:none">+/-</text>
<rect x="451.35" y="183.75" width="9.50" height="5.10" fill="#DA8A16" stroke="#C97A0A" stroke-width="0.5"/>
<text x="464.70" y="189.20" font-size="8.9" text-anchor="start" fill="#1a1a1a" font-style="italic" textLength="12" lengthAdjust="spacingAndGlyphs" style="stroke:none">sdy</text>
<rect x="451.35" y="193.45" width="9.50" height="5.10" fill="#2E4C7E" stroke="#233E6C" stroke-width="0.5"/>
<text x="464.70" y="198.90" font-size="8.9" text-anchor="start" fill="#1a1a1a" textLength="8.2" lengthAdjust="spacingAndGlyphs" style="stroke:none">B6</text>
<rect x="451.35" y="203.15" width="9.50" height="5.10" fill="#6BA643" stroke="#5E9838" stroke-width="0.5"/>
<text x="464.70" y="208.60" font-size="8.9" text-anchor="start" fill="#1a1a1a" font-style="italic" textLength="47.4" lengthAdjust="spacingAndGlyphs" style="stroke:none">Tmem163-KO</text>
<text x="7.80" y="306.00" font-size="12" text-anchor="start" fill="#000" font-weight="bold" >E</text>
<text x="0.00" y="0.00" font-size="10.0" text-anchor="middle" fill="#1a1a1a" textLength="104" lengthAdjust="spacingAndGlyphs" style="stroke:none" transform="translate(30.80,363.80) rotate(-90)">Relative PF-4 release (% of ctrl)</text>
<line x1="53.50" y1="321.00" x2="53.50" y2="407.60" stroke="#111" stroke-width="1.1"/>
<line x1="50.50" y1="323.30" x2="53.50" y2="323.30" stroke="#111" stroke-width="1.1"/>
<text x="47.30" y="326.20" font-size="9.4" text-anchor="end" fill="#1a1a1a" textLength="11.24" lengthAdjust="spacingAndGlyphs" >1.5</text>
<line x1="50.50" y1="351.40" x2="53.50" y2="351.40" stroke="#111" stroke-width="1.1"/>
<text x="47.30" y="354.30" font-size="9.4" text-anchor="end" fill="#1a1a1a" textLength="11.24" lengthAdjust="spacingAndGlyphs" >1.0</text>
<line x1="50.50" y1="379.50" x2="53.50" y2="379.50" stroke="#111" stroke-width="1.1"/>
<text x="47.30" y="382.40" font-size="9.4" text-anchor="end" fill="#1a1a1a" textLength="11.24" lengthAdjust="spacingAndGlyphs" >0.5</text>
<line x1="50.50" y1="407.60" x2="53.50" y2="407.60" stroke="#111" stroke-width="1.1"/>
<text x="47.30" y="410.50" font-size="9.4" text-anchor="end" fill="#1a1a1a" textLength="11.24" lengthAdjust="spacingAndGlyphs" >0.0</text>
<rect x="54.75" y="381.16" width="5.70" height="26.19" fill="#8C86BD" stroke="#7B73B2" stroke-width="0.5"/>
<line x1="57.60" y1="380.91" x2="57.60" y2="380.34" stroke="#111" stroke-width="1.2"/>
<line x1="55.30" y1="380.34" x2="59.90" y2="380.34" stroke="#111" stroke-width="1.3"/>
<rect x="62.55" y="389.02" width="5.70" height="18.33" fill="#DA8A16" stroke="#C97A0A" stroke-width="0.5"/>
<line x1="65.40" y1="388.77" x2="65.40" y2="388.21" stroke="#111" stroke-width="1.2"/>
<line x1="63.10" y1="388.21" x2="67.70" y2="388.21" stroke="#111" stroke-width="1.3"/>
<rect x="70.70" y="357.27" width="5.70" height="50.08" fill="#8C86BD" stroke="#7B73B2" stroke-width="0.5"/>
<line x1="73.55" y1="357.02" x2="73.55" y2="356.46" stroke="#111" stroke-width="1.2"/>
<line x1="71.25" y1="356.46" x2="75.85" y2="356.46" stroke="#111" stroke-width="1.3"/>
<rect x="78.50" y="394.36" width="5.70" height="12.99" fill="#DA8A16" stroke="#C97A0A" stroke-width="0.5"/>
<line x1="81.35" y1="394.11" x2="81.35" y2="391.86" stroke="#111" stroke-width="1.2"/>
<line x1="79.05" y1="391.86" x2="83.65" y2="391.86" stroke="#111" stroke-width="1.3"/>
<rect x="86.65" y="351.93" width="5.70" height="55.42" fill="#8C86BD" stroke="#7B73B2" stroke-width="0.5"/>
<line x1="89.50" y1="351.68" x2="89.50" y2="351.12" stroke="#111" stroke-width="1.2"/>
<line x1="87.20" y1="351.12" x2="91.80" y2="351.12" stroke="#111" stroke-width="1.3"/>
<rect x="94.45" y="384.25" width="5.70" height="23.10" fill="#DA8A16" stroke="#C97A0A" stroke-width="0.5"/>
<line x1="97.30" y1="384.00" x2="97.30" y2="383.43" stroke="#111" stroke-width="1.2"/>
<line x1="95.00" y1="383.43" x2="99.60" y2="383.43" stroke="#111" stroke-width="1.3"/>
<rect x="102.60" y="351.93" width="5.70" height="55.42" fill="#8C86BD" stroke="#7B73B2" stroke-width="0.5"/>
<line x1="105.45" y1="351.68" x2="105.45" y2="351.12" stroke="#111" stroke-width="1.2"/>
<line x1="103.15" y1="351.12" x2="107.75" y2="351.12" stroke="#111" stroke-width="1.3"/>
<rect x="110.40" y="352.21" width="5.70" height="55.14" fill="#DA8A16" stroke="#C97A0A" stroke-width="0.5"/>
<line x1="113.25" y1="351.96" x2="113.25" y2="351.40" stroke="#111" stroke-width="1.2"/>
<line x1="110.95" y1="351.40" x2="115.55" y2="351.40" stroke="#111" stroke-width="1.3"/>
<rect x="118.55" y="381.44" width="5.70" height="25.91" fill="#2E4C7E" stroke="#233E6C" stroke-width="0.5"/>
<line x1="121.40" y1="381.19" x2="121.40" y2="380.62" stroke="#111" stroke-width="1.2"/>
<line x1="119.10" y1="380.62" x2="123.70" y2="380.62" stroke="#111" stroke-width="1.3"/>
<rect x="126.35" y="388.18" width="5.70" height="19.17" fill="#6BA643" stroke="#5E9838" stroke-width="0.5"/>
<line x1="129.20" y1="387.93" x2="129.20" y2="387.37" stroke="#111" stroke-width="1.2"/>
<line x1="126.90" y1="387.37" x2="131.50" y2="387.37" stroke="#111" stroke-width="1.3"/>
<rect x="134.50" y="357.83" width="5.70" height="49.52" fill="#2E4C7E" stroke="#233E6C" stroke-width="0.5"/>
<line x1="137.35" y1="357.58" x2="137.35" y2="357.02" stroke="#111" stroke-width="1.2"/>
<line x1="135.05" y1="357.02" x2="139.65" y2="357.02" stroke="#111" stroke-width="1.3"/>
<rect x="142.30" y="375.54" width="5.70" height="31.81" fill="#6BA643" stroke="#5E9838" stroke-width="0.5"/>
<line x1="145.15" y1="375.29" x2="145.15" y2="374.72" stroke="#111" stroke-width="1.2"/>
<line x1="142.85" y1="374.72" x2="147.45" y2="374.72" stroke="#111" stroke-width="1.3"/>
<rect x="150.45" y="352.21" width="5.70" height="55.14" fill="#2E4C7E" stroke="#233E6C" stroke-width="0.5"/>
<line x1="153.30" y1="351.96" x2="153.30" y2="351.40" stroke="#111" stroke-width="1.2"/>
<line x1="151.00" y1="351.40" x2="155.60" y2="351.40" stroke="#111" stroke-width="1.3"/>
<rect x="158.25" y="359.52" width="5.70" height="47.83" fill="#6BA643" stroke="#5E9838" stroke-width="0.5"/>
<line x1="161.10" y1="359.27" x2="161.10" y2="358.99" stroke="#111" stroke-width="1.2"/>
<line x1="158.80" y1="358.99" x2="163.40" y2="358.99" stroke="#111" stroke-width="1.3"/>
<rect x="166.40" y="351.93" width="5.70" height="55.42" fill="#2E4C7E" stroke="#233E6C" stroke-width="0.5"/>
<line x1="169.25" y1="351.68" x2="169.25" y2="351.12" stroke="#111" stroke-width="1.2"/>
<line x1="166.95" y1="351.12" x2="171.55" y2="351.12" stroke="#111" stroke-width="1.3"/>
<rect x="174.20" y="351.93" width="5.70" height="55.42" fill="#6BA643" stroke="#5E9838" stroke-width="0.5"/>
<line x1="177.05" y1="351.68" x2="177.05" y2="351.12" stroke="#111" stroke-width="1.2"/>
<line x1="174.75" y1="351.12" x2="179.35" y2="351.12" stroke="#111" stroke-width="1.3"/>
<line x1="53.50" y1="407.60" x2="182.80" y2="407.60" stroke="#111" stroke-width="1.2"/>
<line x1="57.00" y1="378.10" x2="66.00" y2="378.10" stroke="#111" stroke-width="1.5"/>
<polygon points="58.10,372.70 58.54,373.69 59.62,373.81 58.81,374.53 59.04,375.59 58.10,375.05 57.16,375.59 57.39,374.53 56.58,373.81 57.66,373.69" fill="#1a1a1a"/>
<polygon points="61.50,372.70 61.94,373.69 63.02,373.81 62.21,374.53 62.44,375.59 61.50,375.05 60.56,375.59 60.79,374.53 59.98,373.81 61.06,373.69" fill="#1a1a1a"/>
<polygon points="64.90,372.70 65.34,373.69 66.42,373.81 65.61,374.53 65.84,375.59 64.90,375.05 63.96,375.59 64.19,374.53 63.38,373.81 64.46,373.69" fill="#1a1a1a"/>
<line x1="72.95" y1="352.00" x2="81.95" y2="352.00" stroke="#111" stroke-width="1.5"/>
<polygon points="74.05,346.60 74.49,347.59 75.57,347.71 74.76,348.43 74.99,349.49 74.05,348.95 73.11,349.49 73.34,348.43 72.53,347.71 73.61,347.59" fill="#1a1a1a"/>
<polygon points="77.45,346.60 77.89,347.59 78.97,347.71 78.16,348.43 78.39,349.49 77.45,348.95 76.51,349.49 76.74,348.43 75.93,347.71 77.01,347.59" fill="#1a1a1a"/>
<polygon points="80.85,346.60 81.29,347.59 82.37,347.71 81.56,348.43 81.79,349.49 80.85,348.95 79.91,349.49 80.14,348.43 79.33,347.71 80.41,347.59" fill="#1a1a1a"/>
<line x1="88.90" y1="349.10" x2="97.90" y2="349.10" stroke="#111" stroke-width="1.5"/>
<polygon points="90.00,343.70 90.44,344.69 91.52,344.81 90.71,345.53 90.94,346.59 90.00,346.05 89.06,346.59 89.29,345.53 88.48,344.81 89.56,344.69" fill="#1a1a1a"/>
<polygon points="93.40,343.70 93.84,344.69 94.92,344.81 94.11,345.53 94.34,346.59 93.40,346.05 92.46,346.59 92.69,345.53 91.88,344.81 92.96,344.69" fill="#1a1a1a"/>
<polygon points="96.80,343.70 97.24,344.69 98.32,344.81 97.51,345.53 97.74,346.59 96.80,346.05 95.86,346.59 96.09,345.53 95.28,344.81 96.36,344.69" fill="#1a1a1a"/>
<line x1="104.85" y1="348.00" x2="113.85" y2="348.00" stroke="#111" stroke-width="1.5"/>
<text x="109.35" y="345.20" font-size="9.2" text-anchor="middle" fill="#1a1a1a" textLength="14.2" lengthAdjust="spacingAndGlyphs" >N.S.</text>
<line x1="120.80" y1="375.80" x2="129.80" y2="375.80" stroke="#111" stroke-width="1.5"/>
<polygon points="121.90,370.40 122.34,371.39 123.42,371.51 122.61,372.23 122.84,373.29 121.90,372.75 120.96,373.29 121.19,372.23 120.38,371.51 121.46,371.39" fill="#1a1a1a"/>
<polygon points="125.30,370.40 125.74,371.39 126.82,371.51 126.01,372.23 126.24,373.29 125.30,372.75 124.36,373.29 124.59,372.23 123.78,371.51 124.86,371.39" fill="#1a1a1a"/>
<polygon points="128.70,370.40 129.14,371.39 130.22,371.51 129.41,372.23 129.64,373.29 128.70,372.75 127.76,373.29 127.99,372.23 127.18,371.51 128.26,371.39" fill="#1a1a1a"/>
<line x1="136.75" y1="353.40" x2="145.75" y2="353.40" stroke="#111" stroke-width="1.5"/>
<polygon points="137.85,348.00 138.29,348.99 139.37,349.11 138.56,349.83 138.79,350.89 137.85,350.35 136.91,350.89 137.14,349.83 136.33,349.11 137.41,348.99" fill="#1a1a1a"/>
<polygon points="141.25,348.00 141.69,348.99 142.77,349.11 141.96,349.83 142.19,350.89 141.25,350.35 140.31,350.89 140.54,349.83 139.73,349.11 140.81,348.99" fill="#1a1a1a"/>
<polygon points="144.65,348.00 145.09,348.99 146.17,349.11 145.36,349.83 145.59,350.89 144.65,350.35 143.71,350.89 143.94,349.83 143.13,349.11 144.21,348.99" fill="#1a1a1a"/>
<line x1="152.70" y1="348.70" x2="161.70" y2="348.70" stroke="#111" stroke-width="1.5"/>
<polygon points="153.80,343.30 154.24,344.29 155.32,344.41 154.51,345.13 154.74,346.19 153.80,345.65 152.86,346.19 153.09,345.13 152.28,344.41 153.36,344.29" fill="#1a1a1a"/>
<polygon points="157.20,343.30 157.64,344.29 158.72,344.41 157.91,345.13 158.14,346.19 157.20,345.65 156.26,346.19 156.49,345.13 155.68,344.41 156.76,344.29" fill="#1a1a1a"/>
<polygon points="160.60,343.30 161.04,344.29 162.12,344.41 161.31,345.13 161.54,346.19 160.60,345.65 159.66,346.19 159.89,345.13 159.08,344.41 160.16,344.29" fill="#1a1a1a"/>
<line x1="168.65" y1="348.00" x2="177.65" y2="348.00" stroke="#111" stroke-width="1.5"/>
<text x="173.15" y="345.20" font-size="9.2" text-anchor="middle" fill="#1a1a1a" textLength="14.2" lengthAdjust="spacingAndGlyphs" >N.S.</text>
<text x="61.50" y="418.80" font-size="8.8" text-anchor="middle" fill="#1a1a1a" textLength="11.38" lengthAdjust="spacingAndGlyphs" >0.8</text>
<text x="77.45" y="418.80" font-size="8.8" text-anchor="middle" fill="#1a1a1a" textLength="11.38" lengthAdjust="spacingAndGlyphs" >1.2</text>
<text x="93.40" y="418.80" font-size="8.8" text-anchor="middle" fill="#1a1a1a" textLength="4.55" lengthAdjust="spacingAndGlyphs" >5</text>
<text x="109.35" y="418.80" font-size="8.8" text-anchor="middle" fill="#1a1a1a" textLength="4.55" lengthAdjust="spacingAndGlyphs" >5</text>
<text x="125.30" y="418.80" font-size="8.8" text-anchor="middle" fill="#1a1a1a" textLength="11.38" lengthAdjust="spacingAndGlyphs" >0.8</text>
<text x="141.25" y="418.80" font-size="8.8" text-anchor="middle" fill="#1a1a1a" textLength="11.38" lengthAdjust="spacingAndGlyphs" >1.2</text>
<text x="157.20" y="418.80" font-size="8.8" text-anchor="middle" fill="#1a1a1a" textLength="4.55" lengthAdjust="spacingAndGlyphs" >5</text>
<text x="173.15" y="418.80" font-size="8.8" text-anchor="middle" fill="#1a1a1a" textLength="4.55" lengthAdjust="spacingAndGlyphs" >5</text>
<rect x="60.60" y="427.90" width="1.80" height="0.90" fill="#555"/>
<rect x="76.55" y="427.90" width="1.80" height="0.90" fill="#555"/>
<rect x="92.50" y="427.90" width="1.80" height="0.90" fill="#555"/>
<text x="109.35" y="430.50" font-size="8.8" text-anchor="middle" fill="#1a1a1a" >+</text>
<rect x="124.40" y="427.90" width="1.80" height="0.90" fill="#555"/>
<rect x="140.35" y="427.90" width="1.80" height="0.90" fill="#555"/>
<rect x="156.30" y="427.90" width="1.80" height="0.90" fill="#555"/>
<text x="173.15" y="430.50" font-size="8.8" text-anchor="middle" fill="#1a1a1a" >+</text>
<text x="191.70" y="418.20" font-size="9.1" text-anchor="start" fill="#1a1a1a" textLength="57.1" lengthAdjust="spacingAndGlyphs" style="stroke:none">collagen µg/mL</text>
<text x="191.70" y="429.80" font-size="9.1" text-anchor="start" fill="#1a1a1a" textLength="46.8" lengthAdjust="spacingAndGlyphs" style="stroke:none">ADP (10 µM)</text>
<rect x="191.35" y="325.65" width="9.50" height="5.10" fill="#8C86BD" stroke="#7B73B2" stroke-width="0.5"/>
<text x="204.70" y="331.10" font-size="8.9" text-anchor="start" fill="#1a1a1a" font-style="italic" textLength="12" lengthAdjust="spacingAndGlyphs" style="stroke:none">sdy</text>
<text x="216.80" y="326.70" font-size="5.8" text-anchor="start" fill="#1a1a1a" font-style="italic" textLength="6.6" lengthAdjust="spacingAndGlyphs" style="stroke:none">+/-</text>
<rect x="191.35" y="335.40" width="9.50" height="5.10" fill="#DA8A16" stroke="#C97A0A" stroke-width="0.5"/>
<text x="204.70" y="340.85" font-size="8.9" text-anchor="start" fill="#1a1a1a" font-style="italic" textLength="12" lengthAdjust="spacingAndGlyphs" style="stroke:none">sdy</text>
<rect x="191.35" y="345.15" width="9.50" height="5.10" fill="#2E4C7E" stroke="#233E6C" stroke-width="0.5"/>
<text x="204.70" y="350.60" font-size="8.9" text-anchor="start" fill="#1a1a1a" textLength="8.2" lengthAdjust="spacingAndGlyphs" style="stroke:none">B6</text>
<rect x="191.35" y="354.90" width="9.50" height="5.10" fill="#6BA643" stroke="#5E9838" stroke-width="0.5"/>
<text x="204.70" y="360.35" font-size="8.9" text-anchor="start" fill="#1a1a1a" font-style="italic" textLength="47.4" lengthAdjust="spacingAndGlyphs" style="stroke:none">Tmem163-KO</text>
<text x="268.80" y="306.00" font-size="12" text-anchor="start" fill="#000" font-weight="bold" >F</text>
<text x="0.00" y="0.00" font-size="10.0" text-anchor="middle" fill="#1a1a1a" textLength="104" lengthAdjust="spacingAndGlyphs" style="stroke:none" transform="translate(290.80,363.80) rotate(-90)">Relative PF-4 release (% of ctrl)</text>
<line x1="313.60" y1="321.00" x2="313.60" y2="407.60" stroke="#111" stroke-width="1.1"/>
<line x1="310.60" y1="323.30" x2="313.60" y2="323.30" stroke="#111" stroke-width="1.1"/>
<text x="307.40" y="326.20" font-size="9.4" text-anchor="end" fill="#1a1a1a" textLength="11.24" lengthAdjust="spacingAndGlyphs" >1.5</text>
<line x1="310.60" y1="351.40" x2="313.60" y2="351.40" stroke="#111" stroke-width="1.1"/>
<text x="307.40" y="354.30" font-size="9.4" text-anchor="end" fill="#1a1a1a" textLength="11.24" lengthAdjust="spacingAndGlyphs" >1.0</text>
<line x1="310.60" y1="379.50" x2="313.60" y2="379.50" stroke="#111" stroke-width="1.1"/>
<text x="307.40" y="382.40" font-size="9.4" text-anchor="end" fill="#1a1a1a" textLength="11.24" lengthAdjust="spacingAndGlyphs" >0.5</text>
<line x1="310.60" y1="407.60" x2="313.60" y2="407.60" stroke="#111" stroke-width="1.1"/>
<text x="307.40" y="410.50" font-size="9.4" text-anchor="end" fill="#1a1a1a" textLength="11.24" lengthAdjust="spacingAndGlyphs" >0.0</text>
<rect x="315.05" y="403.07" width="5.60" height="4.28" fill="#8C86BD" stroke="#7B73B2" stroke-width="0.5"/>
<line x1="317.85" y1="402.82" x2="317.85" y2="402.26" stroke="#111" stroke-width="1.2"/>
<line x1="315.55" y1="402.26" x2="320.15" y2="402.26" stroke="#111" stroke-width="1.3"/>
<rect x="322.85" y="405.04" width="5.60" height="2.31" fill="#DA8A16" stroke="#C97A0A" stroke-width="0.5"/>
<line x1="325.65" y1="404.79" x2="325.65" y2="404.23" stroke="#111" stroke-width="1.2"/>
<line x1="323.35" y1="404.23" x2="327.95" y2="404.23" stroke="#111" stroke-width="1.3"/>
<rect x="330.90" y="364.01" width="5.60" height="43.34" fill="#8C86BD" stroke="#7B73B2" stroke-width="0.5"/>
<line x1="333.70" y1="363.76" x2="333.70" y2="362.64" stroke="#111" stroke-width="1.2"/>
<line x1="331.40" y1="362.64" x2="336.00" y2="362.64" stroke="#111" stroke-width="1.3"/>
<rect x="338.70" y="389.87" width="5.60" height="17.48" fill="#DA8A16" stroke="#C97A0A" stroke-width="0.5"/>
<line x1="341.50" y1="389.62" x2="341.50" y2="389.05" stroke="#111" stroke-width="1.2"/>
<line x1="339.20" y1="389.05" x2="343.80" y2="389.05" stroke="#111" stroke-width="1.3"/>
<rect x="346.75" y="352.77" width="5.60" height="54.58" fill="#8C86BD" stroke="#7B73B2" stroke-width="0.5"/>
<line x1="349.55" y1="352.52" x2="349.55" y2="351.96" stroke="#111" stroke-width="1.2"/>
<line x1="347.25" y1="351.96" x2="351.85" y2="351.96" stroke="#111" stroke-width="1.3"/>
<rect x="354.55" y="379.19" width="5.60" height="28.16" fill="#DA8A16" stroke="#C97A0A" stroke-width="0.5"/>
<line x1="357.35" y1="378.94" x2="357.35" y2="378.38" stroke="#111" stroke-width="1.2"/>
<line x1="355.05" y1="378.38" x2="359.65" y2="378.38" stroke="#111" stroke-width="1.3"/>
<rect x="362.60" y="351.93" width="5.60" height="55.42" fill="#8C86BD" stroke="#7B73B2" stroke-width="0.5"/>
<line x1="365.40" y1="351.68" x2="365.40" y2="351.12" stroke="#111" stroke-width="1.2"/>
<line x1="363.10" y1="351.12" x2="367.70" y2="351.12" stroke="#111" stroke-width="1.3"/>
<rect x="370.40" y="352.21" width="5.60" height="55.14" fill="#DA8A16" stroke="#C97A0A" stroke-width="0.5"/>
<line x1="373.20" y1="351.96" x2="373.20" y2="351.40" stroke="#111" stroke-width="1.2"/>
<line x1="370.90" y1="351.40" x2="375.50" y2="351.40" stroke="#111" stroke-width="1.3"/>
<rect x="378.45" y="405.60" width="5.60" height="1.75" fill="#2E4C7E" stroke="#233E6C" stroke-width="0.5"/>
<line x1="381.25" y1="405.35" x2="381.25" y2="405.07" stroke="#111" stroke-width="1.2"/>
<line x1="378.95" y1="405.07" x2="383.55" y2="405.07" stroke="#111" stroke-width="1.3"/>
<rect x="386.25" y="406.16" width="5.60" height="1.19" fill="#6BA643" stroke="#5E9838" stroke-width="0.5"/>
<line x1="389.05" y1="405.91" x2="389.05" y2="405.35" stroke="#111" stroke-width="1.2"/>
<line x1="386.75" y1="405.35" x2="391.35" y2="405.35" stroke="#111" stroke-width="1.3"/>
<rect x="394.30" y="357.83" width="5.60" height="49.52" fill="#2E4C7E" stroke="#233E6C" stroke-width="0.5"/>
<line x1="397.10" y1="357.58" x2="397.10" y2="357.02" stroke="#111" stroke-width="1.2"/>
<line x1="394.80" y1="357.02" x2="399.40" y2="357.02" stroke="#111" stroke-width="1.3"/>
<rect x="402.10" y="371.88" width="5.60" height="35.47" fill="#6BA643" stroke="#5E9838" stroke-width="0.5"/>
<line x1="404.90" y1="371.63" x2="404.90" y2="371.07" stroke="#111" stroke-width="1.2"/>
<line x1="402.60" y1="371.07" x2="407.20" y2="371.07" stroke="#111" stroke-width="1.3"/>
<rect x="410.15" y="352.49" width="5.60" height="54.86" fill="#2E4C7E" stroke="#233E6C" stroke-width="0.5"/>
<line x1="412.95" y1="352.24" x2="412.95" y2="351.68" stroke="#111" stroke-width="1.2"/>
<line x1="410.65" y1="351.68" x2="415.25" y2="351.68" stroke="#111" stroke-width="1.3"/>
<rect x="417.95" y="352.49" width="5.60" height="54.86" fill="#6BA643" stroke="#5E9838" stroke-width="0.5"/>
<line x1="420.75" y1="352.24" x2="420.75" y2="351.68" stroke="#111" stroke-width="1.2"/>
<line x1="418.45" y1="351.68" x2="423.05" y2="351.68" stroke="#111" stroke-width="1.3"/>
<rect x="426.00" y="351.65" width="5.60" height="55.70" fill="#2E4C7E" stroke="#233E6C" stroke-width="0.5"/>
<line x1="428.80" y1="351.40" x2="428.80" y2="350.84" stroke="#111" stroke-width="1.2"/>
<line x1="426.50" y1="350.84" x2="431.10" y2="350.84" stroke="#111" stroke-width="1.3"/>
<rect x="433.80" y="351.65" width="5.60" height="55.70" fill="#6BA643" stroke="#5E9838" stroke-width="0.5"/>
<line x1="436.60" y1="351.40" x2="436.60" y2="350.84" stroke="#111" stroke-width="1.2"/>
<line x1="434.30" y1="350.84" x2="438.90" y2="350.84" stroke="#111" stroke-width="1.3"/>
<line x1="313.60" y1="407.60" x2="442.80" y2="407.60" stroke="#111" stroke-width="1.2"/>
<line x1="317.25" y1="399.70" x2="326.25" y2="399.70" stroke="#111" stroke-width="1.5"/>
<polygon points="318.35,394.30 318.79,395.29 319.87,395.41 319.06,396.13 319.29,397.19 318.35,396.65 317.41,397.19 317.64,396.13 316.83,395.41 317.91,395.29" fill="#1a1a1a"/>
<polygon points="321.75,394.30 322.19,395.29 323.27,395.41 322.46,396.13 322.69,397.19 321.75,396.65 320.81,397.19 321.04,396.13 320.23,395.41 321.31,395.29" fill="#1a1a1a"/>
<polygon points="325.15,394.30 325.59,395.29 326.67,395.41 325.86,396.13 326.09,397.19 325.15,396.65 324.21,397.19 324.44,396.13 323.63,395.41 324.71,395.29" fill="#1a1a1a"/>
<line x1="333.10" y1="360.40" x2="342.10" y2="360.40" stroke="#111" stroke-width="1.5"/>
<polygon points="334.20,355.00 334.64,355.99 335.72,356.11 334.91,356.83 335.14,357.89 334.20,357.35 333.26,357.89 333.49,356.83 332.68,356.11 333.76,355.99" fill="#1a1a1a"/>
<polygon points="337.60,355.00 338.04,355.99 339.12,356.11 338.31,356.83 338.54,357.89 337.60,357.35 336.66,357.89 336.89,356.83 336.08,356.11 337.16,355.99" fill="#1a1a1a"/>
<polygon points="341.00,355.00 341.44,355.99 342.52,356.11 341.71,356.83 341.94,357.89 341.00,357.35 340.06,357.89 340.29,356.83 339.48,356.11 340.56,355.99" fill="#1a1a1a"/>
<line x1="348.95" y1="350.50" x2="357.95" y2="350.50" stroke="#111" stroke-width="1.5"/>
<polygon points="350.05,345.10 350.49,346.09 351.57,346.21 350.76,346.93 350.99,347.99 350.05,347.45 349.11,347.99 349.34,346.93 348.53,346.21 349.61,346.09" fill="#1a1a1a"/>
<polygon points="353.45,345.10 353.89,346.09 354.97,346.21 354.16,346.93 354.39,347.99 353.45,347.45 352.51,347.99 352.74,346.93 351.93,346.21 353.01,346.09" fill="#1a1a1a"/>
<polygon points="356.85,345.10 357.29,346.09 358.37,346.21 357.56,346.93 357.79,347.99 356.85,347.45 355.91,347.99 356.14,346.93 355.33,346.21 356.41,346.09" fill="#1a1a1a"/>
<line x1="364.80" y1="349.50" x2="373.80" y2="349.50" stroke="#111" stroke-width="1.5"/>
<text x="369.30" y="346.70" font-size="9.2" text-anchor="middle" fill="#1a1a1a" textLength="14.2" lengthAdjust="spacingAndGlyphs" >N.S.</text>
<line x1="380.65" y1="401.40" x2="389.65" y2="401.40" stroke="#111" stroke-width="1.5"/>
<polygon points="381.75,396.00 382.19,396.99 383.27,397.11 382.46,397.83 382.69,398.89 381.75,398.35 380.81,398.89 381.04,397.83 380.23,397.11 381.31,396.99" fill="#1a1a1a"/>
<polygon points="385.15,396.00 385.59,396.99 386.67,397.11 385.86,397.83 386.09,398.89 385.15,398.35 384.21,398.89 384.44,397.83 383.63,397.11 384.71,396.99" fill="#1a1a1a"/>
<polygon points="388.55,396.00 388.99,396.99 390.07,397.11 389.26,397.83 389.49,398.89 388.55,398.35 387.61,398.89 387.84,397.83 387.03,397.11 388.11,396.99" fill="#1a1a1a"/>
<line x1="396.50" y1="354.60" x2="405.50" y2="354.60" stroke="#111" stroke-width="1.5"/>
<polygon points="397.60,349.20 398.04,350.19 399.12,350.31 398.31,351.03 398.54,352.09 397.60,351.55 396.66,352.09 396.89,351.03 396.08,350.31 397.16,350.19" fill="#1a1a1a"/>
<polygon points="401.00,349.20 401.44,350.19 402.52,350.31 401.71,351.03 401.94,352.09 401.00,351.55 400.06,352.09 400.29,351.03 399.48,350.31 400.56,350.19" fill="#1a1a1a"/>
<polygon points="404.40,349.20 404.84,350.19 405.92,350.31 405.11,351.03 405.34,352.09 404.40,351.55 403.46,352.09 403.69,351.03 402.88,350.31 403.96,350.19" fill="#1a1a1a"/>
<line x1="412.35" y1="349.90" x2="421.35" y2="349.90" stroke="#111" stroke-width="1.5"/>
<text x="416.85" y="347.10" font-size="9.2" text-anchor="middle" fill="#1a1a1a" textLength="14.2" lengthAdjust="spacingAndGlyphs" >N.S.</text>
<line x1="428.20" y1="349.50" x2="437.20" y2="349.50" stroke="#111" stroke-width="1.5"/>
<text x="432.70" y="346.70" font-size="9.2" text-anchor="middle" fill="#1a1a1a" textLength="14.2" lengthAdjust="spacingAndGlyphs" >N.S.</text>
<text x="321.80" y="418.80" font-size="8.8" text-anchor="middle" fill="#1a1a1a" textLength="4.55" lengthAdjust="spacingAndGlyphs" >0</text>
<text x="337.65" y="418.80" font-size="8.8" text-anchor="middle" fill="#1a1a1a" textLength="15.93" lengthAdjust="spacingAndGlyphs" >0.25</text>
<text x="353.50" y="418.80" font-size="8.8" text-anchor="middle" fill="#1a1a1a" textLength="4.55" lengthAdjust="spacingAndGlyphs" >1</text>
<text x="369.35" y="418.80" font-size="8.8" text-anchor="middle" fill="#1a1a1a" textLength="4.55" lengthAdjust="spacingAndGlyphs" >1</text>
<text x="385.20" y="418.80" font-size="8.8" text-anchor="middle" fill="#1a1a1a" textLength="4.55" lengthAdjust="spacingAndGlyphs" >0</text>
<text x="401.05" y="418.80" font-size="8.8" text-anchor="middle" fill="#1a1a1a" textLength="15.93" lengthAdjust="spacingAndGlyphs" >0.25</text>
<text x="416.90" y="418.80" font-size="8.8" text-anchor="middle" fill="#1a1a1a" textLength="4.55" lengthAdjust="spacingAndGlyphs" >1</text>
<text x="432.75" y="418.80" font-size="8.8" text-anchor="middle" fill="#1a1a1a" textLength="4.55" lengthAdjust="spacingAndGlyphs" >1</text>
<rect x="320.90" y="427.90" width="1.80" height="0.90" fill="#555"/>
<rect x="336.75" y="427.90" width="1.80" height="0.90" fill="#555"/>
<rect x="352.60" y="427.90" width="1.80" height="0.90" fill="#555"/>
<text x="369.35" y="430.50" font-size="8.8" text-anchor="middle" fill="#1a1a1a" >+</text>
<rect x="384.30" y="427.90" width="1.80" height="0.90" fill="#555"/>
<rect x="400.15" y="427.90" width="1.80" height="0.90" fill="#555"/>
<rect x="416.00" y="427.90" width="1.80" height="0.90" fill="#555"/>
<text x="432.75" y="430.50" font-size="8.8" text-anchor="middle" fill="#1a1a1a" >+</text>
<text x="451.40" y="418.20" font-size="9.1" text-anchor="start" fill="#1a1a1a" textLength="56" lengthAdjust="spacingAndGlyphs" style="stroke:none">thrombin U/mL</text>
<text x="451.40" y="429.80" font-size="9.1" text-anchor="start" fill="#1a1a1a" textLength="46.8" lengthAdjust="spacingAndGlyphs" style="stroke:none">ADP (10 µM)</text>
<rect x="451.65" y="325.65" width="9.50" height="5.10" fill="#8C86BD" stroke="#7B73B2" stroke-width="0.5"/>
<text x="465.00" y="331.10" font-size="8.9" text-anchor="start" fill="#1a1a1a" font-style="italic" textLength="12" lengthAdjust="spacingAndGlyphs" style="stroke:none">sdy</text>
<text x="477.10" y="326.70" font-size="5.8" text-anchor="start" fill="#1a1a1a" font-style="italic" textLength="6.6" lengthAdjust="spacingAndGlyphs" style="stroke:none">+/-</text>
<rect x="451.65" y="335.40" width="9.50" height="5.10" fill="#DA8A16" stroke="#C97A0A" stroke-width="0.5"/>
<text x="465.00" y="340.85" font-size="8.9" text-anchor="start" fill="#1a1a1a" font-style="italic" textLength="12" lengthAdjust="spacingAndGlyphs" style="stroke:none">sdy</text>
<rect x="451.65" y="345.15" width="9.50" height="5.10" fill="#2E4C7E" stroke="#233E6C" stroke-width="0.5"/>
<text x="465.00" y="350.60" font-size="8.9" text-anchor="start" fill="#1a1a1a" textLength="8.2" lengthAdjust="spacingAndGlyphs" style="stroke:none">B6</text>
<rect x="451.65" y="354.90" width="9.50" height="5.10" fill="#6BA643" stroke="#5E9838" stroke-width="0.5"/>
<text x="465.00" y="360.35" font-size="8.9" text-anchor="start" fill="#1a1a1a" font-style="italic" textLength="47.4" lengthAdjust="spacingAndGlyphs" style="stroke:none">Tmem163-KO</text>
<rect x="0.5" y="0.5" width="519" height="438" fill="none" stroke="#000" stroke-width="1"/>
</svg>
</body></html>
